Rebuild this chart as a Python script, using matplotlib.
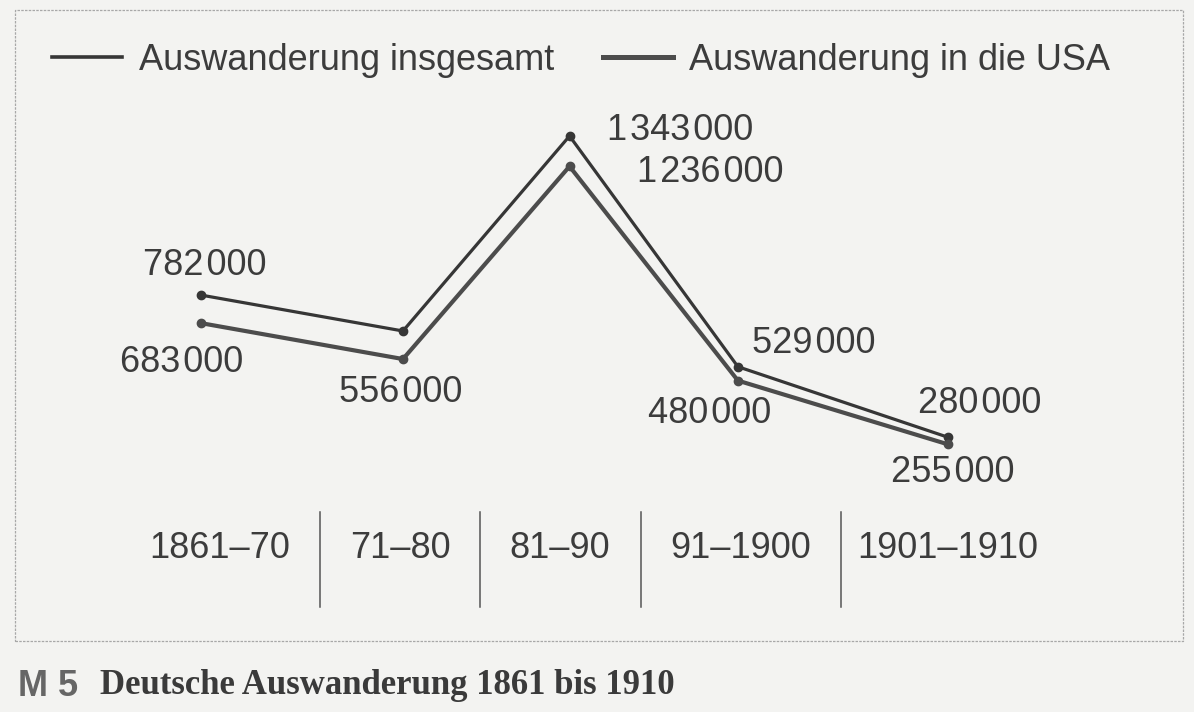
import numpy as np
import matplotlib.pyplot as plt
from matplotlib.patches import Rectangle

# Daten (Deutsche Auswanderung 1861-1910)
perioden = ["1861–70", "71–80", "81–90", "91–1900", "1901–1910"]
insgesamt = [782000, 655000, 1343000, 529000, 280000]
usa = [683000, 556000, 1236000, 480000, 255000]
label_insgesamt = ["782\u200a000", None, "1\u200a343\u200a000", "529\u200a000", "280\u200a000"]
label_usa = ["683\u200a000", "556\u200a000", "1\u200a236\u200a000", "480\u200a000", "255\u200a000"]

# Layout (Achsenanteile)
x_pos = [0.168, 0.3375, 0.477, 0.618, 0.794]
x_text = [0.184, 0.335, 0.469, 0.620, 0.794]
x_trenner = [0.268, 0.402, 0.537, 0.704]

# Textpositionen relativ zum Punkt (Pixel), Ausrichtung
off_ins = [((4, 30), "center"), None, ((37, 6), "left"), ((14, 23), "left"), ((-30, 34), "left")]
off_usa = [((-19, -39), "center"), ((-2, -33), "center"), ((67, -6), "left"),
           ((-28, -33), "center"), ((5, -28), "center")]

dunkel = "#363636"
grau = "#4c4c4c"
textfarbe = "#3c3c3c"
papier = "#f3f3f1"
schrift = ["Liberation Sans", "DejaVu Sans"]
gr = 26

fig = plt.figure(figsize=(11.94, 7.12), dpi=100, facecolor=papier)
ax = fig.add_axes([0, 0, 1, 1])
ax.set_facecolor(papier)
ax.set_xlim(0, 1)
ax.set_ylim(-689300, 1822850)
ax.axis("off")

l1, = ax.plot(x_pos, insgesamt, color=dunkel, lw=2.3, marker="o", ms=6,
              solid_joinstyle="miter", label="Auswanderung insgesamt")
l2, = ax.plot(x_pos, usa, color=grau, lw=3.0, marker="o", ms=6,
              solid_joinstyle="miter", label="Auswanderung in die USA")

for x, y, t, o in zip(x_pos, insgesamt, label_insgesamt, off_ins):
    if t is None:
        continue
    (dx, dy), ha = o
    ax.annotate(t, (x, y), xytext=(dx, dy), textcoords="offset pixels",
                ha=ha, va="center", fontsize=gr, color=textfarbe, family=schrift)

for x, y, t, o in zip(x_pos, usa, label_usa, off_usa):
    (dx, dy), ha = o
    ax.annotate(t, (x, y), xytext=(dx, dy), textcoords="offset pixels",
                ha=ha, va="center", fontsize=gr, color=textfarbe, family=schrift)

# Kategorien und Trennstriche
for x, p in zip(x_text, perioden):
    ax.text(x, 1 - 548 / 712, p, transform=ax.transAxes, ha="center", va="center",
            fontsize=gr, color=textfarbe, family=schrift)
for x in x_trenner:
    ax.plot([x, x], [1 - 512 / 712, 1 - 607 / 712], transform=ax.transAxes,
            color="#555555", lw=1.1)

leg = ax.legend(handles=[l1, l2], loc="center left", bbox_to_anchor=(52 / 1194, 1 - 60 / 712),
                ncol=2, frameon=False, borderpad=0, borderaxespad=0, handlelength=1.95,
                handletextpad=0.45, columnspacing=1.35,
                prop={"family": schrift, "size": gr})
leg.legend_handles[0].set_marker("")
leg.legend_handles[1].set_marker("")
leg.legend_handles[0].set_linewidth(2.6)
leg.legend_handles[1].set_linewidth(3.6)
for t in leg.get_texts():
    t.set_color(textfarbe)

# Rahmen
fig.patches.append(Rectangle((15 / 1194, 1 - 641 / 712), (1183 - 15) / 1194, (641 - 10) / 712,
                             transform=fig.transFigure, fill=False, ec="#a8a8a8",
                             lw=0.9, ls=(0, (2, 1))))

# Bildunterschrift
fig.text(18 / 1194, 1 - 686 / 712, "M 5", ha="left", va="center", fontsize=26,
         color="#666666", family=schrift, fontweight="bold")
fig.text(100 / 1194, 1 - 686 / 712, "Deutsche Auswanderung 1861 bis 1910", ha="left",
         va="center", fontsize=25, color="#3a3a3a", family=["Liberation Serif", "DejaVu Serif"],
         fontweight="bold")

fig.savefig("out.png", dpi=100, facecolor=papier)
